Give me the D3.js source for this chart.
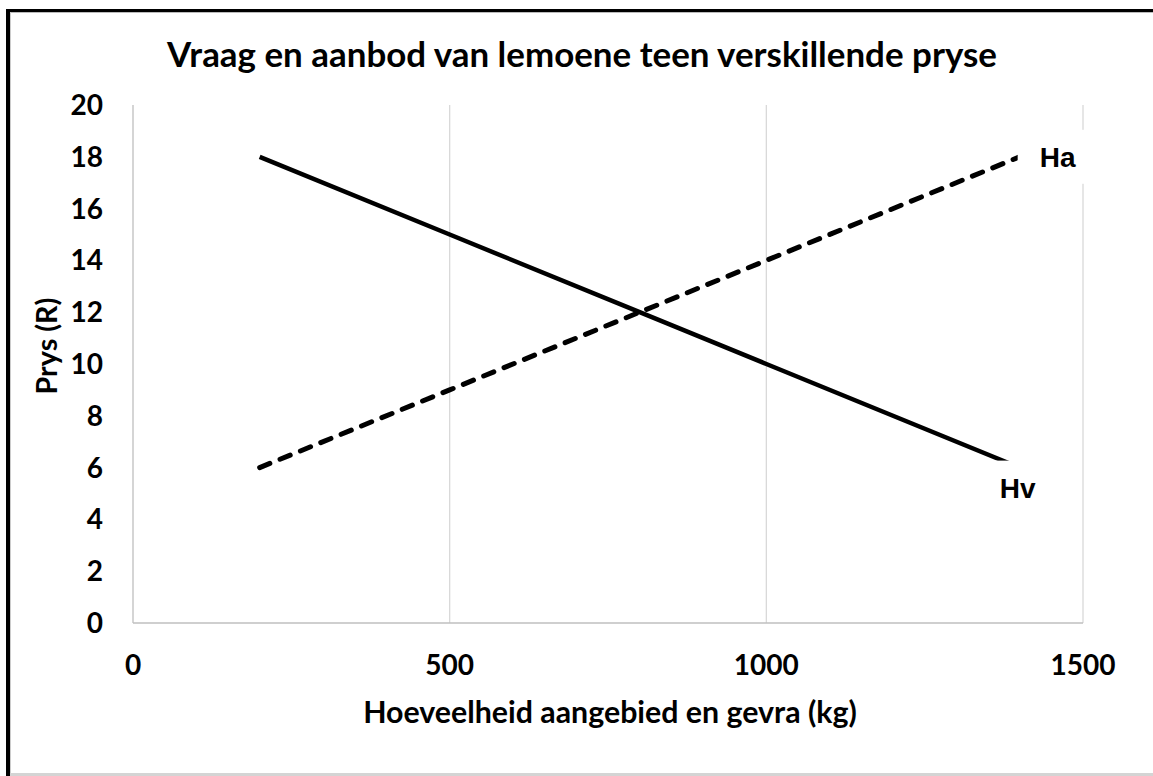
<!DOCTYPE html>
<meta charset="utf-8">
<script src="https://d3js.org/d3.v7.min.js"></script>
<style>
body { margin: 0; background: #fff; }
text { font-family: Lato, "Open Sans", sans-serif; font-weight: bold; fill: #000; }
.lbl { font-family: "Liberation Sans", Arial, sans-serif; }
</style>
<div id="chart"></div>
<script>
// data
var quantity = [200, 500, 800, 1000, 1400];
var demand = [18, 15, 12, 10, 6];     // Hv
var supply = [6, 9, 12, 14, 18];      // Ha
var xTicks = [0, 500, 1000, 1500];
var yTicks = [0, 2, 4, 6, 8, 10, 12, 14, 16, 18, 20];

var W = 1153, H = 776;
var margin = {top: 105, right: 70, bottom: 153, left: 133};

var svg = d3.select("#chart").append("svg")
  .attr("width", W).attr("height", H);

// outer frame: dark top/left, light bottom
svg.append("rect").attr("x", 6).attr("y", 9).attr("width", W).attr("height", 3).attr("fill", "#000");
svg.append("rect").attr("x", 6).attr("y", 12).attr("width", W).attr("height", 1).attr("fill", "#bbb");
svg.append("rect").attr("x", 6).attr("y", 9).attr("width", 4).attr("height", H).attr("fill", "#000");
svg.append("rect").attr("x", 10).attr("y", 12).attr("width", 1).attr("height", H).attr("fill", "#ccc");
svg.append("rect").attr("x", 10).attr("y", 773).attr("width", W).attr("height", 3).attr("fill", "#d4d4d4");

var x = d3.scaleLinear().domain([0, 1500]).range([margin.left, W - margin.right]);
var y = d3.scaleLinear().domain([0, 20]).range([H - margin.bottom, margin.top]);

// helper: shrink/grow font so text spans a given width
function fit(sel, target) {
  var len = sel.node().getComputedTextLength();
  var fs = parseFloat(sel.style("font-size"));
  sel.style("font-size", (fs * target / len) + "px");
}

// vertical gridlines
svg.append("g").selectAll("line").data(xTicks).enter().append("line")
  .attr("x1", function(d) { return x(d); }).attr("x2", function(d) { return x(d); })
  .attr("y1", y(20)).attr("y2", y(0))
  .attr("stroke", function(d) { return d === 0 ? "#bfbfbf" : "#d9d9d9"; })
  .attr("stroke-width", 1.3);

// x axis line
svg.append("line").attr("x1", x(0)).attr("x2", x(1500))
  .attr("y1", y(0)).attr("y2", y(0)).attr("stroke", "#bfbfbf").attr("stroke-width", 1.3);

// tick labels
svg.append("g").selectAll("text").data(yTicks).enter().append("text")
  .attr("x", x(0) - 30).attr("y", function(d) { return y(d); })
  .attr("dy", "0.36em").attr("text-anchor", "end")
  .style("font-size", "28px").text(function(d) { return d; });

svg.append("g").selectAll("text").data(xTicks).enter().append("text")
  .attr("x", function(d) { return x(d); }).attr("y", y(0) + 52)
  .attr("text-anchor", "middle")
  .style("font-size", "28px").text(function(d) { return d; });

// lines
var line = d3.line()
  .x(function(d) { return x(d[0]); })
  .y(function(d) { return y(d[1]); });

svg.append("path").datum(d3.zip(quantity, demand))
  .attr("d", line).attr("fill", "none")
  .attr("stroke", "#000").attr("stroke-width", 4.5);

svg.append("path").datum(d3.zip(quantity, supply))
  .attr("d", line).attr("fill", "none")
  .attr("stroke", "#000").attr("stroke-width", 5)
  .attr("stroke-linecap", "round")
  .attr("stroke-dasharray", "11,11");

// series labels with white boxes
var last = quantity.length - 1;
var labels = [
  {name: "Ha", cx: x(quantity[last]) + 38, cy: y(supply[last])},
  {name: "Hv", cx: x(quantity[last]) - 2, cy: y(demand[last]) + 20}
];
labels.forEach(function(l) {
  svg.append("rect").attr("x", l.cx - 40).attr("y", l.cy - 27)
    .attr("width", 80).attr("height", 54).attr("fill", "#fff");
  svg.append("text").attr("class", "lbl")
    .attr("x", l.cx).attr("y", l.cy).attr("dy", "0.36em")
    .attr("text-anchor", "middle").style("font-size", "28px").text(l.name);
});

// titles
var title = svg.append("text").attr("x", 582).attr("y", 67)
  .attr("text-anchor", "middle").style("font-size", "32px")
  .text("Vraag en aanbod van lemoene teen verskillende pryse");
fit(title, 830);

var xt = svg.append("text").attr("x", 610).attr("y", 723)
  .attr("text-anchor", "middle").style("font-size", "28px")
  .text("Hoeveelheid aangebied en gevra (kg)");
fit(xt, 494);

var yt = svg.append("text")
  .attr("transform", "translate(57,346) rotate(-90)")
  .attr("text-anchor", "middle").style("font-size", "28px")
  .text("Prys (R)");
fit(yt, 97);
</script>
